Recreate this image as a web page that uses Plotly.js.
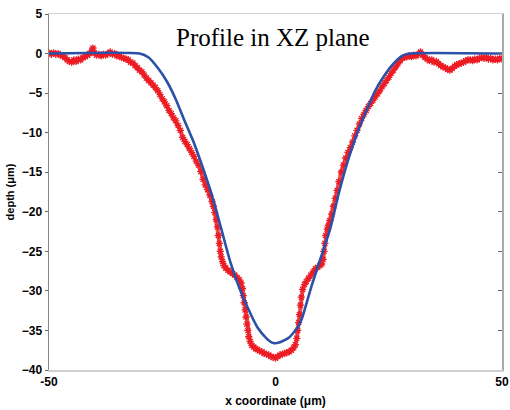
<!DOCTYPE html>
<html><head><meta charset="utf-8">
<script src="https://cdn.plot.ly/plotly-3.0.1.min.js"></script>
<style>html,body{margin:0;padding:0;background:#fff}#c{width:510px;height:410px}</style>
</head><body><div id="c"></div>
<script>
const modelX = [-50,-30,-28,-26,-24,-22,-20,-18,-16,-14,-12,-10,-8,-6,-4,-2,-0.5,1,3,5,6,8,10,12,14,16,18,20,22,24,26,28,29.5,50];
const modelY = [0,0,-0.5,-1.8,-3.5,-5.8,-8.6,-11.3,-14.5,-18.0,-22.1,-26.3,-29.6,-32.3,-34.6,-36.0,-36.6,-36.5,-35.9,-34.5,-33.2,-29.3,-25.8,-22.3,-17.6,-13.5,-10.1,-7.3,-4.7,-2.8,-1.3,-0.3,0,0];

const measX = [-50,-49.5,-49,-48.5,-48,-47.5,-47,-46.5,-46,-45.5,
-45,-44.5,-44,-43.5,-43,-42.5,-42,-41.5,-41,-40.6,
-40.3,-40,-39.5,-39,-38.5,-38,-37.5,-37,-36.5,-36,
-35.5,-35,-34.5,-34,-33.5,-33,-32.5,-32,-31.5,-31,
-30.5,-30,-29.5,-29,-28.5,-28,-27.5,-27,-26.5,-26,
-25.5,-25,-24.5,-24,-23.5,-23,-22.5,-22,-21.5,-21,
-20.5,-20,-19.5,-19,-18.5,-18,-17.5,-17,-16.5,-16,
-15.5,-15,-14.5,-14,-13.7,-13.4,-13.1,-12.8,-12.6,-12.4,
-12.2,-12,-11.7,-11.4,-11,-10.5,-10,-9.5,-9,-8.5,
-8,-7.6,-7.3,-7.1,-6.9,-6.7,-6.5,-6.3,-6.1,-5.9,
-5.6,-5.2,-4.8,-4.4,-4,-3.5,-3,-2.5,-2,-1.5,
-1,-0.5,0,0.5,1,1.5,2,2.5,3,3.5,
4,4.4,4.7,4.9,5.1,5.3,5.5,5.7,6,6.4,
6.8,7.3,7.8,8.3,8.8,9.3,9.8,10.2,10.5,10.7,
10.9,11.1,11.4,11.7,12,12.4,12.8,13.2,13.6,14,
14.5,15,15.5,16,16.5,17,17.5,18,18.5,19,
19.5,20,20.5,21,21.5,22,22.5,23,23.5,24,
24.5,25,25.5,26,26.5,27,27.5,28,28.5,29,
29.5,30,30.5,31,31.5,32,32.5,33,33.5,34,
34.5,35,35.5,36,36.5,37,37.5,38,38.5,39,
39.5,40,40.5,41,41.5,42,42.5,43,43.5,44,
44.5,45,45.5,46,46.5,47,47.5,48,48.5,49,
49.5,50];
const measY = [0.1,-0.1,0.1,-0.1,0,-0.2,-0.3,-0.5,-0.8,-1.0,
-1.1,-0.8,-1.0,-0.7,-0.8,-0.5,-0.4,-0.2,0,0.3,
0.7,0.1,-0.2,-0.1,-0.3,-0.1,-0.2,0,0.2,-0.1,
0,-0.3,-0.3,-0.5,-0.6,-0.7,-0.8,-1.1,-1.2,-1.5,
-1.8,-2.1,-2.3,-2.7,-3.1,-3.4,-3.7,-4.0,-4.3,-4.7,
-5.2,-5.7,-6.1,-6.6,-7.2,-7.6,-8.1,-8.5,-9.1,-9.7,
-10.6,-11.1,-11.5,-12.0,-12.5,-13.0,-13.6,-14.1,-14.9,-15.9,
-16.6,-17.2,-17.9,-18.7,-19.3,-20.1,-21.0,-21.9,-23.0,-24.0,
-25.0,-25.7,-26.3,-26.8,-27.1,-27.4,-27.6,-27.8,-28.0,-28.3,
-28.6,-29.0,-29.7,-30.6,-31.5,-32.4,-33.3,-34.2,-35.0,-35.8,
-36.4,-36.9,-37.1,-37.3,-37.4,-37.6,-37.7,-37.9,-38.0,-38.1,
-38.3,-38.4,-38.5,-38.3,-38.1,-38.0,-37.9,-37.8,-37.7,-37.5,
-37.2,-36.8,-36.0,-35.0,-34.0,-33.0,-31.8,-30.8,-29.8,-29.2,
-28.8,-28.4,-28.0,-27.6,-27.2,-27.0,-26.8,-26.6,-26.0,-25.0,
-24.0,-23.0,-22.2,-21.7,-21.1,-20.3,-19.3,-18.3,-17.3,-16.2,
-15.0,-14.1,-13.2,-12.5,-11.9,-11.2,-10.4,-9.7,-8.9,-8.2,
-7.7,-7.2,-6.7,-6.3,-5.9,-5.5,-5.1,-4.7,-4.2,-3.8,
-3.4,-3.0,-2.5,-2.1,-1.7,-1.3,-0.9,-0.6,-0.5,-0.4,
-0.3,-0.4,-0.2,-0.3,-0.1,0.2,-0.2,-0.5,-0.7,-0.9,
-0.8,-1.1,-1.0,-1.3,-1.5,-1.7,-1.8,-2.0,-2.1,-1.9,
-1.6,-1.4,-1.3,-1.2,-1.1,-0.9,-0.8,-0.8,-0.9,-0.7,
-0.8,-0.6,-0.5,-0.6,-0.5,-0.7,-0.6,-0.8,-0.7,-0.8,
-0.6,-0.7];

const yTicks = [5,0,-5,-10,-15,-20,-25,-30,-35,-40];
const xTicks = [-50,0,50];
const titleText = 'Profile in XZ plane';
const xTitle = 'x coordinate (\u03bcm)';
const yTitle = 'depth (\u03bcm)';

const tickFont = {family:'Liberation Sans, Arial, sans-serif', size:12, color:'#000', weight:'bold'};

const traces = [
  {x: measX, y: measY, type:'scatter', mode:'lines+markers',
   line:{color:'rgba(236,28,36,0.8)', width:4},
   marker:{symbol:'asterisk-open', size:6, color:'#ec1c24', line:{color:'#ec1c24', width:1.3}},
   showlegend:false, hoverinfo:'skip'},
  {x: modelX, y: modelY, type:'scatter', mode:'lines', yaxis:'y2',
   line:{color:'#2b50a8', width:2.6, shape:'spline', smoothing:0.5},
   showlegend:false, hoverinfo:'skip'}
];

const layout = {
  width:510, height:410,
  margin:{l:49, r:8, t:14, b:40},
  paper_bgcolor:'#fff', plot_bgcolor:'#fff',
  xaxis:{range:[-50,50], tickvals:xTicks, ticktext:xTicks.map(String), ticks:'', showgrid:false, zeroline:false,
         showline:true, linecolor:'#cfcfcf', linewidth:1.5, mirror:true, tickfont:tickFont, ticklen:0,
         title:{text:xTitle, font:{family:'Liberation Sans, Arial, sans-serif', size:12, color:'#000', weight:'bold'}, standoff:8}},
  yaxis:{range:[-40,5], tickvals:yTicks, ticks:'outside', ticklen:3, tickcolor:'#666', showgrid:false, zeroline:false,
         showline:true, linecolor:'#888', linewidth:1.5, tickfont:tickFont,
         title:{text:yTitle, font:{family:'Liberation Sans, Arial, sans-serif', size:11, color:'#000', weight:'bold'}, standoff:5}},
  yaxis2:{range:[-40,5], overlaying:'y', side:'right', tickvals:yTicks, ticks:'inside', ticklen:4, tickcolor:'#666',
          showticklabels:false, showgrid:false, zeroline:false, showline:true, linecolor:'#aaa', linewidth:1.5},
  annotations:[{text:titleText, xref:'paper', yref:'paper', x:0.494, y:0.933, xanchor:'center', yanchor:'middle',
                showarrow:false, font:{family:'Liberation Serif, Times New Roman, serif', size:25, color:'#000'}}]
};
Plotly.newPlot('c', traces, layout, {staticPlot:true, displayModeBar:false});
</script></body></html>
